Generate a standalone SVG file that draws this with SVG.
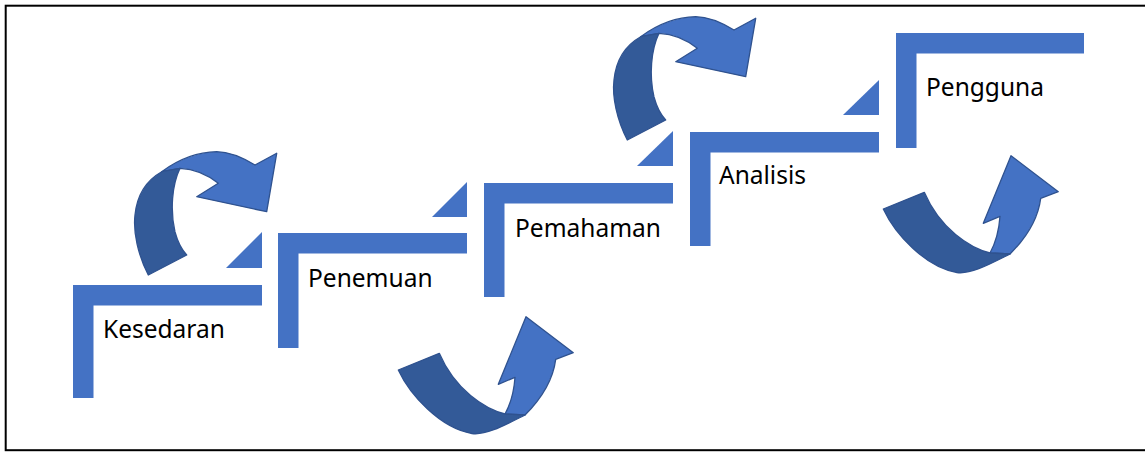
<svg xmlns="http://www.w3.org/2000/svg" xmlns:xlink="http://www.w3.org/1999/xlink" width="1145" height="452" viewBox="0 0 1145 452">
  <style>
    .bar { fill: #4472C4; }
    .label { font-family: "Noto Sans", "Open Sans", sans-serif; font-size: 24.5px; fill: #000000; }
    .lite { fill: #4472C4; stroke: #2F528F; stroke-width: 1.3; stroke-linejoin: round; }
    .dark { fill: #335A98; stroke: #2F528F; stroke-width: 1.3; stroke-linejoin: round; }
  </style>
  <defs>
    <!-- circular arrow sweeping over the top and pointing down-right -->
    <g id="arcOver">
      <path class="lite" d="M161.7,171.7 C175,162 195,152 216.7,151.7 C232,152 245,159 255,165 L276.7,153.3 L266.7,211.7 L196.7,196.7 L218.3,183.3 C208,175 195,169 180,168.3 Z"/>
      <path class="dark" d="M148.3,275 C138,255 133,232 135,215 C137,195 147,180 161.7,171.7 L180,168.3 C172,185 170,210 175,232 C178,243 182,250 186.7,255 Z"/>
    </g>
    <!-- U-shaped arrow dipping under and pointing up-right -->
    <g id="arcUnder">
      <path class="lite" d="M505,414 L525,415 C540,400 553,380 555.7,359.3 L573.3,352.7 L526,316.7 L498.3,384.3 L515,377.3 C514,392 510,405 505,414 Z"/>
      <path class="dark" d="M398.3,370 C410,395 440,428 472,433.5 C486,435.5 505,425 525,415 L505,414 C485,409 455,390 439.3,353.3 Z"/>
    </g>
  </defs>

  <!-- frame -->
  <rect x="5.7" y="5.7" width="1150" height="444.5" fill="#FFFFFF" stroke="#000000" stroke-width="2"/>

  <!-- step risers (small triangles) -->
  <g id="risers">
    <polygon class="bar" points="262,232 262,268 226,268"/>
    <polygon class="bar" points="467,182 467,217 432,217"/>
    <polygon class="bar" points="673,131 673,166 637,166"/>
    <polygon class="bar" points="879,80 879,115 843,115"/>
  </g>

  <g id="step-kesedaran">
    <rect class="bar" x="73" y="285" width="189" height="20.5"/>
    <rect class="bar" x="73" y="285" width="20.5" height="113"/>
    <text class="label" x="103" y="338">Kesedaran</text>
  </g>

  <g id="step-penemuan">
    <rect class="bar" x="278" y="233" width="189" height="20.5"/>
    <rect class="bar" x="278" y="233" width="20.5" height="115"/>
    <text class="label" x="308" y="287">Penemuan</text>
  </g>

  <g id="step-pemahaman">
    <rect class="bar" x="484" y="183" width="189" height="20.5"/>
    <rect class="bar" x="484" y="183" width="20.5" height="114"/>
    <text class="label" x="515" y="237">Pemahaman</text>
  </g>

  <g id="step-analisis">
    <rect class="bar" x="690" y="132" width="189" height="20.5"/>
    <rect class="bar" x="690" y="132" width="20.5" height="114"/>
    <text class="label" x="719" y="184">Analisis</text>
  </g>

  <g id="step-pengguna">
    <rect class="bar" x="896" y="33" width="188" height="20.5"/>
    <rect class="bar" x="896" y="33" width="20.5" height="115"/>
    <text class="label" x="926" y="96">Pengguna</text>
  </g>

  <g id="connectors">
    <use xlink:href="#arcOver"/>
    <use xlink:href="#arcOver" transform="translate(479,-135)"/>
    <use xlink:href="#arcUnder"/>
    <use xlink:href="#arcUnder" transform="translate(485,-161)"/>
  </g>
</svg>
